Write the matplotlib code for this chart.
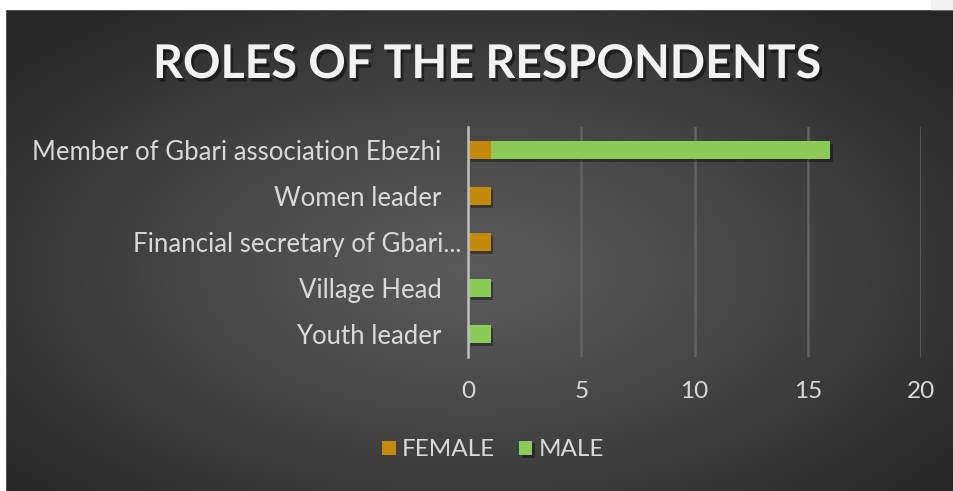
import numpy as np
import matplotlib
matplotlib.use("Agg")
import matplotlib.pyplot as plt
import matplotlib.patheffects as pe
from matplotlib.patches import Rectangle

# Data
roles = ["Youth leader", "Village Head", "Financial secretary of Gbari...",
         "Women leader", "Member of Gbari association Ebezhi"]
female = [0, 0, 1, 1, 1]
male = [1, 1, 0, 0, 15]
x_ticks = [0, 5, 10, 15, 20]
series_names = ["FEMALE", "MALE"]

female_color = "#C48A0A"
male_color = "#8CCB57"
text_color = "#D9D9D9"
font = "Lato"
fs = 17.5

W, H = 954, 491
fig = plt.figure(figsize=(W / 100, H / 100), dpi=100)
fig.patch.set_facecolor("white")

# Background with a soft radial gradient
bg = fig.add_axes([0, 0, 1, 1], zorder=0)
bg.set_axis_off()
yy, xx = np.mgrid[0:H, 0:W]
r = np.sqrt(((xx - 470) / 620) ** 2 + ((yy - 270) / 330) ** 2)
v = 0x5A - (0x5A - 0x27) * np.clip(r, 0, 1) ** 1.2
img = np.dstack([v, v, v]) / 255.0
bg.imshow(img, extent=(0, W, H, 0), aspect="auto", interpolation="bilinear")
# white margins around the chart panel
bg.add_patch(Rectangle((0, 0), W, 9, color="white", zorder=3))
bg.add_patch(Rectangle((931, 0), W - 931, 9, color="#F2F2F2", zorder=3))
bg.add_patch(Rectangle((0, 0), 5, H, color="white", zorder=3))
bg.set_xlim(0, W)
bg.set_ylim(H, 0)

# Main chart
ax = fig.add_axes([468 / W, 1 - 357 / H, (921 - 468) / W, (357 - 127) / H], zorder=1)
ax.set_facecolor("none")
y = np.arange(len(roles))
shadow = [pe.SimplePatchShadow(offset=(2, -2), shadow_rgbFace="black", alpha=0.35),
          pe.Normal()]
b1 = ax.barh(y, female, height=0.4, color=female_color, label=series_names[0], zorder=3)
b2 = ax.barh(y, male, height=0.4, left=female, color=male_color, label=series_names[1], zorder=3)
for bar in list(b1) + list(b2):
    if bar.get_width() > 0:
        bar.set_path_effects(shadow)

ax.set_xlim(0, 20)
ax.set_ylim(-0.5, len(roles) - 0.5)
ax.set_xticks(x_ticks)
ax.set_xticklabels([str(t) for t in x_ticks])
ax.set_yticks(y)
ax.set_yticklabels(roles)
ax.xaxis.grid(True, color="#626262", linewidth=1.8, zorder=0)
ax.set_axisbelow(True)
for s in ["top", "right", "bottom"]:
    ax.spines[s].set_visible(False)
ax.spines["left"].set_color("#BFBFBF")
ax.spines["left"].set_linewidth(1.8)
ax.spines["left"].set_zorder(4)
ax.tick_params(axis="both", length=0, colors=text_color, labelsize=fs)
ax.tick_params(axis="y", labelsize=18.5)
ax.tick_params(axis="x", pad=17)
ax.tick_params(axis="y", pad=19)
for lbl in ax.get_xticklabels() + ax.get_yticklabels():
    lbl.set_fontfamily(font)
    lbl.set_color(text_color)
# the truncated label sits closer to the axis
ax.get_yticklabels()[2].set_x(20 / 453)

# Title
fig.text(487 / W, 1 - 64 / H, "ROLES OF THE RESPONDENTS", ha="center", va="center",
         fontsize=33.5, fontweight="bold", color="#F2F2F2", family=font,
         path_effects=[pe.withSimplePatchShadow(offset=(2, -2.5), shadow_rgbFace="black", alpha=0.45)])

# Legend
leg = fig.legend(handles=[b1, b2], labels=series_names, loc="center",
                 bbox_to_anchor=(493 / W, 1 - 450 / H), ncol=2, frameon=False,
                 prop={"family": font, "size": fs}, handlelength=0.55, handleheight=0.55,
                 handletextpad=0.25, columnspacing=1.0)
for t in leg.get_texts():
    t.set_color(text_color)

fig.savefig("out.png", dpi=100)
